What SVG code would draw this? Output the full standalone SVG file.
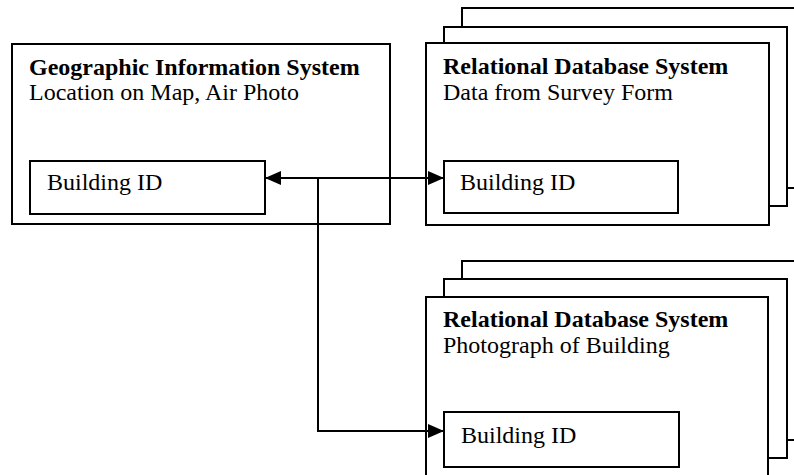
<svg xmlns="http://www.w3.org/2000/svg" width="794" height="475" viewBox="0 0 794 475">
<style>
rect{fill:#fff;stroke:#000;stroke-width:2}
text{font-family:"Liberation Serif","Times New Roman",serif;font-size:24px;fill:#000}
.b{font-weight:bold}
.c{fill:none;stroke:#000;stroke-width:2}
</style>
<defs>
<marker id="ah" markerWidth="16" markerHeight="14" refX="16" refY="7" orient="auto" markerUnits="userSpaceOnUse">
<path d="M0,0 L16,7 L0,14 Z" fill="#000"/>
</marker>
<marker id="ahs" markerWidth="16" markerHeight="14" refX="0" refY="7" orient="auto" markerUnits="userSpaceOnUse">
<path d="M16,0 L0,7 L16,14 Z" fill="#000"/>
</marker>
</defs>
<g id="gis">
<rect x="12" y="44" width="378" height="180"/>
<text class="b" x="29" y="75">Geographic Information System</text>
<text x="29" y="100">Location on Map, Air Photo</text>
<rect x="30" y="161" width="235" height="53"/>
<text x="47" y="190">Building ID</text>
</g>
<g id="rds-survey">
<rect x="462" y="8" width="400" height="180"/>
<rect x="444" y="27" width="343" height="179"/>
<rect x="426" y="43" width="343" height="182"/>
<text class="b" x="443" y="74">Relational Database System</text>
<text x="443" y="100">Data from Survey Form</text>
<rect x="444" y="161" width="234" height="52"/>
<text x="460" y="190">Building ID</text>
</g>
<g id="rds-photo">
<rect x="462" y="261" width="400" height="179"/>
<rect x="444" y="279" width="343" height="179"/>
<rect x="426" y="297" width="342" height="200"/>
<text class="b" x="443" y="327">Relational Database System</text>
<text x="443" y="353">Photograph of Building</text>
<rect x="444" y="412" width="235" height="55"/>
<text x="461" y="443">Building ID</text>
</g>
<g id="connectors">
<path class="c" d="M265,178 L444,178" marker-start="url(#ahs)" marker-end="url(#ah)"/>
<path class="c" d="M318,178 L318,431 L444,431" marker-end="url(#ah)"/>
</g>
</svg>
